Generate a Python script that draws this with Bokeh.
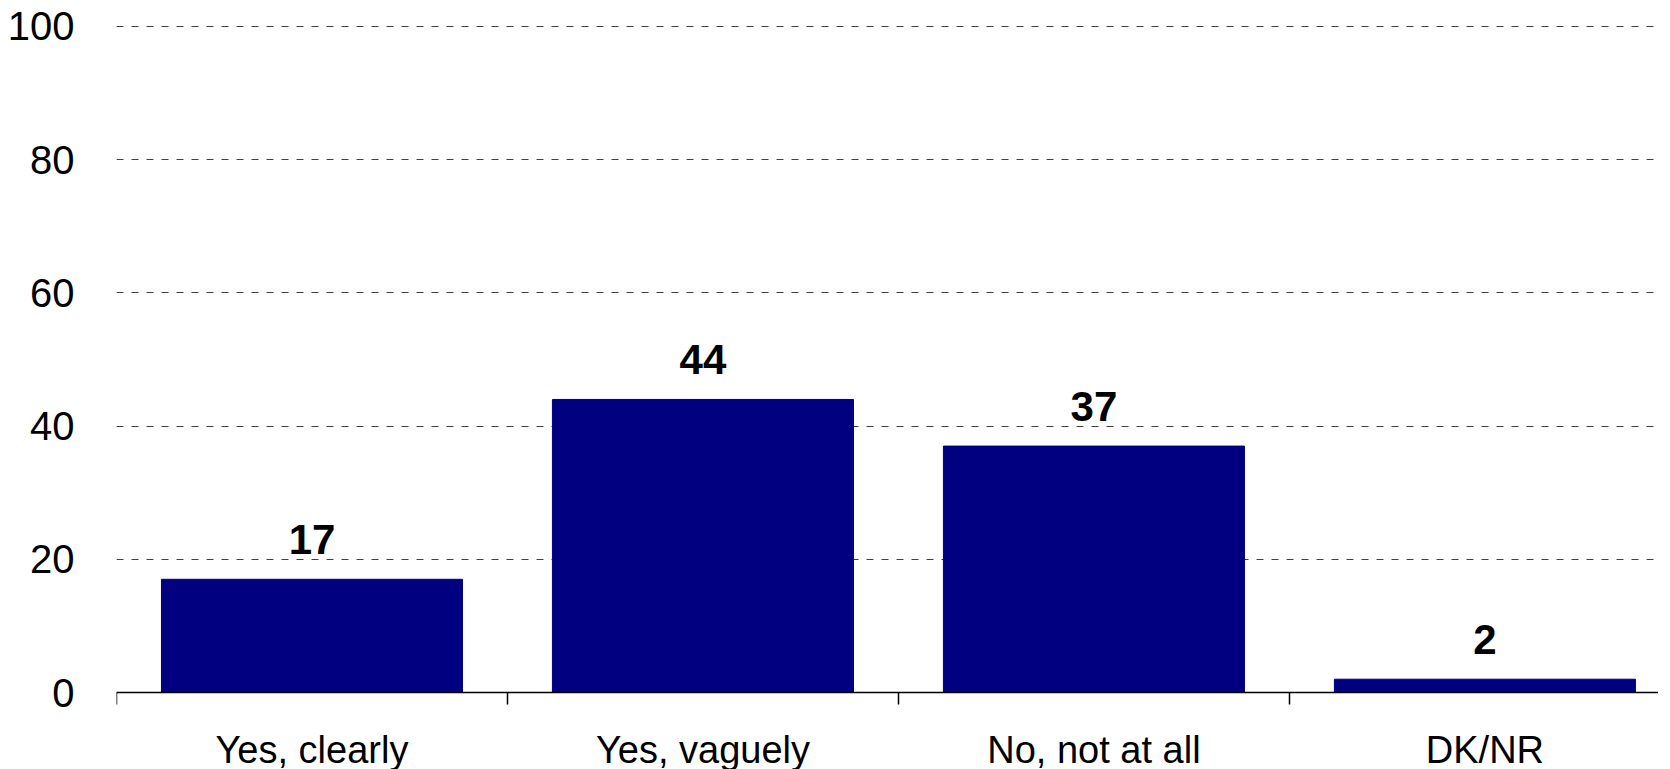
from bokeh.plotting import figure
from bokeh.models import Range1d, FixedTicker, ColumnDataSource
from bokeh.core.properties import value
from bokeh.embed import file_html
from bokeh.resources import INLINE

categories = ["Yes, clearly", "Yes, vaguely", "No, not at all", "DK/NR"]
values = [17, 44, 37, 2]
y_ticks = [0, 20, 40, 60, 80, 100]

FONT = "Liberation Sans"

centers = [i + 0.5 for i in range(len(categories))]
boundaries = [i for i in range(len(categories) + 1)]

p = figure(frame_width=1542, frame_height=747, output_backend="svg", toolbar_location=None,
           x_range=Range1d(0, 3.944), y_range=Range1d(-11.56, 100.6),
           min_border_left=116, min_border_right=0, min_border_top=22, min_border_bottom=0)
p.outline_line_color = None
p.background_fill_color = "white"

src = ColumnDataSource(dict(x=centers, top=values, label=[str(v) for v in values]))
p.vbar(x="x", top="top", bottom=0, width=0.77, source=src,
       fill_color="#000080", line_color="#000080")

p.text(x="x", y="top", text="label", source=src, text_align="center",
       text_baseline="alphabetic", y_offset=-40,
       text_font=value(FONT), text_font_size="42px", text_font_style="bold",
       text_color="black")

# x axis, drawn at y = 0 inside the frame
xa = p.xaxis[0]
xa.fixed_location = 0
xa.ticker = FixedTicker(ticks=centers, minor_ticks=boundaries)
xa.major_label_overrides = {c: lab for c, lab in zip(centers, categories)}
xa.major_tick_out = 0
xa.major_tick_in = 0
xa.minor_tick_out = 12
xa.minor_tick_in = 0
xa.minor_tick_line_color = "black"
xa.minor_tick_line_width = 1.5
xa.axis_line_color = "black"
xa.axis_line_width = 1.5
xa.major_label_text_font = FONT
xa.major_label_text_font_size = "38px"
xa.major_label_text_color = "black"
xa.major_label_standoff = 24

# y axis
ya = p.yaxis[0]
ya.ticker = FixedTicker(ticks=y_ticks)
ya.axis_line_color = None
ya.major_tick_line_color = None
ya.minor_tick_line_color = None
ya.major_label_text_font = FONT
ya.major_label_text_font_size = "40px"
ya.major_label_text_color = "black"
ya.major_label_standoff = 36

p.xgrid.visible = False
p.ygrid.ticker = FixedTicker(ticks=y_ticks)
p.ygrid.grid_line_color = "#404040"
p.ygrid.grid_line_dash = "7 8"
p.ygrid.grid_line_width = 1

open("out.html", "w").write(file_html(p, INLINE))
